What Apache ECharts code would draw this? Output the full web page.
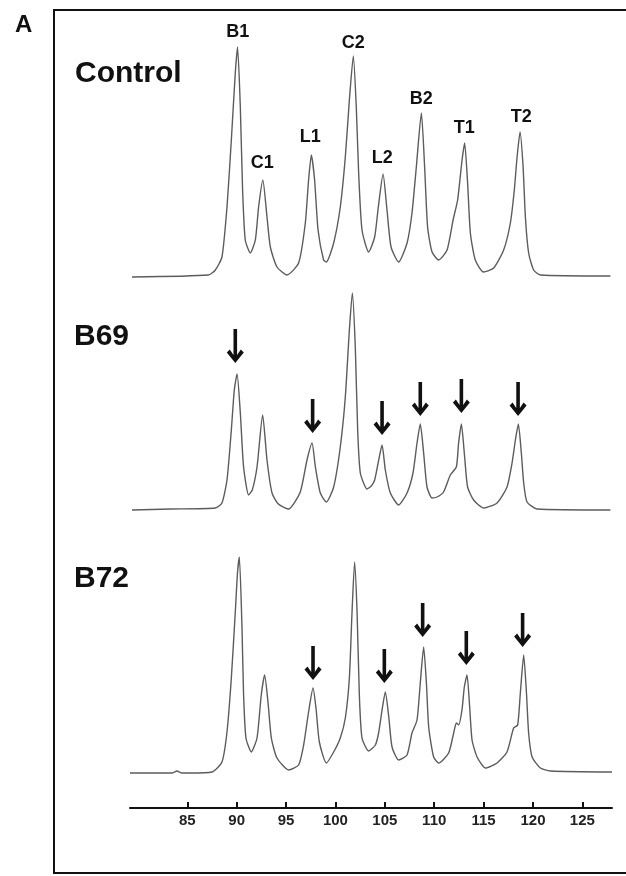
<!DOCTYPE html>
<html>
<head>
<meta charset="utf-8">
<script src="https://cdn.jsdelivr.net/npm/echarts@6/dist/echarts.min.js"></script>
<style>
  html, body { margin: 0; padding: 0; background: #fff; }
  #chart { width: 626px; height: 876px; }
</style>
</head>
<body>
<div id="chart"></div>
<script>
// x axis (elution position) ticks
const xTicks = [85, 90, 95, 100, 105, 110, 115, 120, 125];
const panelNames = ['Control', 'B69', 'B72'];

// traces: [position, signal above baseline]
const controlTrace = [
  [79.4, 0], [87.13, 2], [87.84, 7], [88.51, 20], [89.02, 70], [89.46, 137], [89.86, 204], [90.09, 230],
  [90.37, 170], [90.6, 87], [90.87, 37], [91.38, 24], [91.89, 37], [92.22, 70], [92.65, 97],
  [93.07, 60], [93.41, 30], [94.08, 10], [95.1, 2], [96.27, 14], [96.95, 54], [97.28, 97], [97.56, 122],
  [97.89, 97], [98.24, 47], [98.8, 17], [99.08, 15], [99.82, 34], [100.49, 70], [101.0, 120], [101.41, 177],
  [101.81, 221], [102.11, 170], [102.35, 104], [102.69, 47], [103.36, 25], [103.97, 40], [104.34, 70],
  [104.82, 103], [105.22, 67], [105.63, 30], [106.4, 15], [107.25, 34], [107.75, 64], [108.19, 110],
  [108.7, 164], [109.03, 110], [109.33, 50], [109.78, 25], [110.45, 17], [111.3, 27], [111.91, 57],
  [112.37, 77], [112.82, 117], [113.08, 134], [113.38, 94], [113.66, 44], [114.16, 17], [115.0, 5],
  [116.02, 9], [117.03, 27], [117.71, 54], [118.11, 87], [118.39, 120], [118.69, 145], [119.0, 110],
  [119.23, 60], [119.56, 24], [120.07, 7], [120.75, 2], [127.84, 1]
];
const b69Trace = [
  [79.4, 0], [83.28, 1], [87.84, 2], [88.51, 7], [89.02, 30], [89.46, 80], [89.76, 120], [90.04, 136],
  [90.37, 97], [90.7, 43], [91.21, 15], [91.58, 20], [92.06, 43], [92.63, 95], [93.07, 50], [93.58, 17],
  [94.22, 6], [95.26, 1], [96.44, 18], [97.12, 50], [97.63, 67], [97.97, 43], [98.47, 17], [99.08, 8],
  [99.82, 23], [100.49, 63], [101.0, 113], [101.41, 180], [101.71, 217], [102.01, 163], [102.25, 80],
  [102.52, 37], [103.2, 21], [103.63, 24], [103.97, 30], [104.34, 48], [104.72, 65], [105.05, 40],
  [105.56, 17], [106.4, 5], [107.25, 17], [107.85, 37], [108.26, 67], [108.59, 86], [108.93, 57],
  [109.27, 23], [109.78, 12], [110.29, 13], [110.95, 18], [111.63, 35], [112.24, 43], [112.47, 67],
  [112.75, 86], [113.08, 53], [113.38, 23], [113.99, 10], [115.0, 2], [116.36, 7], [117.37, 23],
  [117.88, 47], [118.22, 70], [118.52, 86], [118.82, 57], [119.06, 27], [119.4, 8], [120.41, 1], [127.84, 0]
];
const b72Trace = [
  [79.2, 0], [83.5, 0], [83.96, 2], [84.4, 0], [85.3, 0], [87.5, 1], [88.51, 11], [89.02, 41], [89.46, 95], [89.86, 161],
  [90.09, 201], [90.27, 216], [90.54, 145], [90.7, 78], [90.94, 35], [91.48, 21], [92.06, 35], [92.49, 78],
  [92.83, 98], [93.17, 71], [93.51, 35], [94.08, 15], [95.26, 3], [96.27, 8], [96.78, 28], [97.28, 61],
  [97.73, 85], [98.03, 65], [98.37, 31], [99.08, 10], [99.82, 21], [100.49, 35], [101.0, 55], [101.41, 95],
  [101.68, 161], [101.94, 211], [102.19, 161], [102.42, 78], [102.69, 35], [103.36, 22], [104.04, 28],
  [104.37, 40], [104.72, 63], [105.05, 81], [105.4, 56], [105.73, 26], [106.4, 13], [107.25, 18],
  [107.75, 40], [108.26, 53], [108.59, 90], [108.93, 126], [109.21, 90], [109.44, 46], [109.94, 16],
  [110.45, 10], [111.46, 20], [111.97, 40], [112.24, 50], [112.47, 48], [112.81, 63], [113.05, 86],
  [113.32, 98], [113.59, 66], [113.83, 33], [114.34, 16], [115.18, 5], [116.36, 10], [117.37, 21],
  [118.04, 45], [118.45, 48], [118.72, 80], [119.06, 118], [119.34, 80], [119.56, 40], [119.91, 16],
  [120.75, 5], [121.76, 2], [128.0, 1]
];

// peak names over the control trace
const peakNames = ['B1', 'C1', 'L1', 'C2', 'L2', 'B2', 'T1', 'T2'];
const peakLabelX = [90.12, 92.59, 97.46, 101.81, 104.75, 108.7, 113.05, 118.82];
const peakLabelY = [245, 114, 140, 234, 119, 178, 149, 160];

// arrow tips
const b69ArrowX = [89.86, 97.69, 104.72, 108.59, 112.75, 118.49];
const b69ArrowY = [147, 77, 75, 94, 97, 94];
const b72ArrowX = [97.73, 104.95, 108.83, 113.25, 118.95];
const b72ArrowY = [93, 90, 136, 108, 126];

const font = '"Liberation Sans", Arial, Helvetica, sans-serif';
const arrowPath = 'path://M6.7,0 L10.3,0 L10.3,26 L14,20.5 L17,23.5 L8.5,34 L0,23.5 L3,20.5 L6.7,26 Z';

const chart = echarts.init(document.getElementById('chart'));

const gridTops = [17, 250, 513];
const traces = [controlTrace, b69Trace, b72Trace];

function arrowMarks(xs, ys) {
  return {
    symbol: arrowPath,
    symbolSize: [17, 34],
    symbolOffset: [0, '-50%'],
    itemStyle: { color: '#111' },
    label: { show: false },
    data: xs.map((x, i) => ({ coord: [x, ys[i]] }))
  };
}

const option = {
  animation: false,
  backgroundColor: '#fff',
  grid: gridTops.map(t => ({ left: 130, right: 14, top: t, height: 295 })),
  xAxis: gridTops.map((t, i) => ({
    type: 'value',
    gridIndex: i,
    min: 79.2,
    max: 128,
    show: i === 2,
    axisLine: { show: true, onZero: false, lineStyle: { color: '#111', width: 2 } },
    axisTick: { show: true, inside: true, length: 6, customValues: xTicks, lineStyle: { color: '#111', width: 2 } },
    axisLabel: { show: true, customValues: xTicks, margin: 5, color: '#222', fontFamily: font, fontWeight: 'bold', fontSize: 15 },
    splitLine: { show: false }
  })),
  yAxis: gridTops.map((t, i) => ({
    type: 'value',
    gridIndex: i,
    min: -35,
    max: 260,
    show: false
  })),
  series: traces.map((tr, i) => ({
    type: 'line',
    name: panelNames[i],
    xAxisIndex: i,
    yAxisIndex: i,
    data: tr,
    showSymbol: false,
    smooth: 0.2,
    lineStyle: { color: '#5c5c5c', width: 1.4 },
    markPoint: i === 0 ? {
      symbol: 'circle',
      symbolSize: 1,
      itemStyle: { color: 'rgba(0,0,0,0)' },
      label: { show: true, position: 'inside', formatter: p => p.name, color: '#111', fontFamily: font, fontWeight: 'bold', fontSize: 18 },
      data: peakNames.map((n, k) => ({ name: n, coord: [peakLabelX[k], peakLabelY[k]] }))
    } : (i === 1 ? arrowMarks(b69ArrowX, b69ArrowY) : arrowMarks(b72ArrowX, b72ArrowY))
  })),
  graphic: [
    { type: 'rect', shape: { x: 54, y: 10, width: 640, height: 863 }, style: { fill: 'none', stroke: '#111', lineWidth: 2 } },
    { type: 'text', x: 15, y: 13, style: { text: 'A', font: 'bold 24px ' + font, fill: '#111', textVerticalAlign: 'top' } },
    { type: 'text', x: 75, y: 59, style: { text: panelNames[0], font: 'bold 30px ' + font, fill: '#111', textVerticalAlign: 'top' } },
    { type: 'text', x: 74, y: 322, style: { text: panelNames[1], font: 'bold 30px ' + font, fill: '#111', textVerticalAlign: 'top' } },
    { type: 'text', x: 74, y: 564, style: { text: panelNames[2], font: 'bold 30px ' + font, fill: '#111', textVerticalAlign: 'top' } }
  ]
};

chart.setOption(option);
</script>
</body>
</html>
